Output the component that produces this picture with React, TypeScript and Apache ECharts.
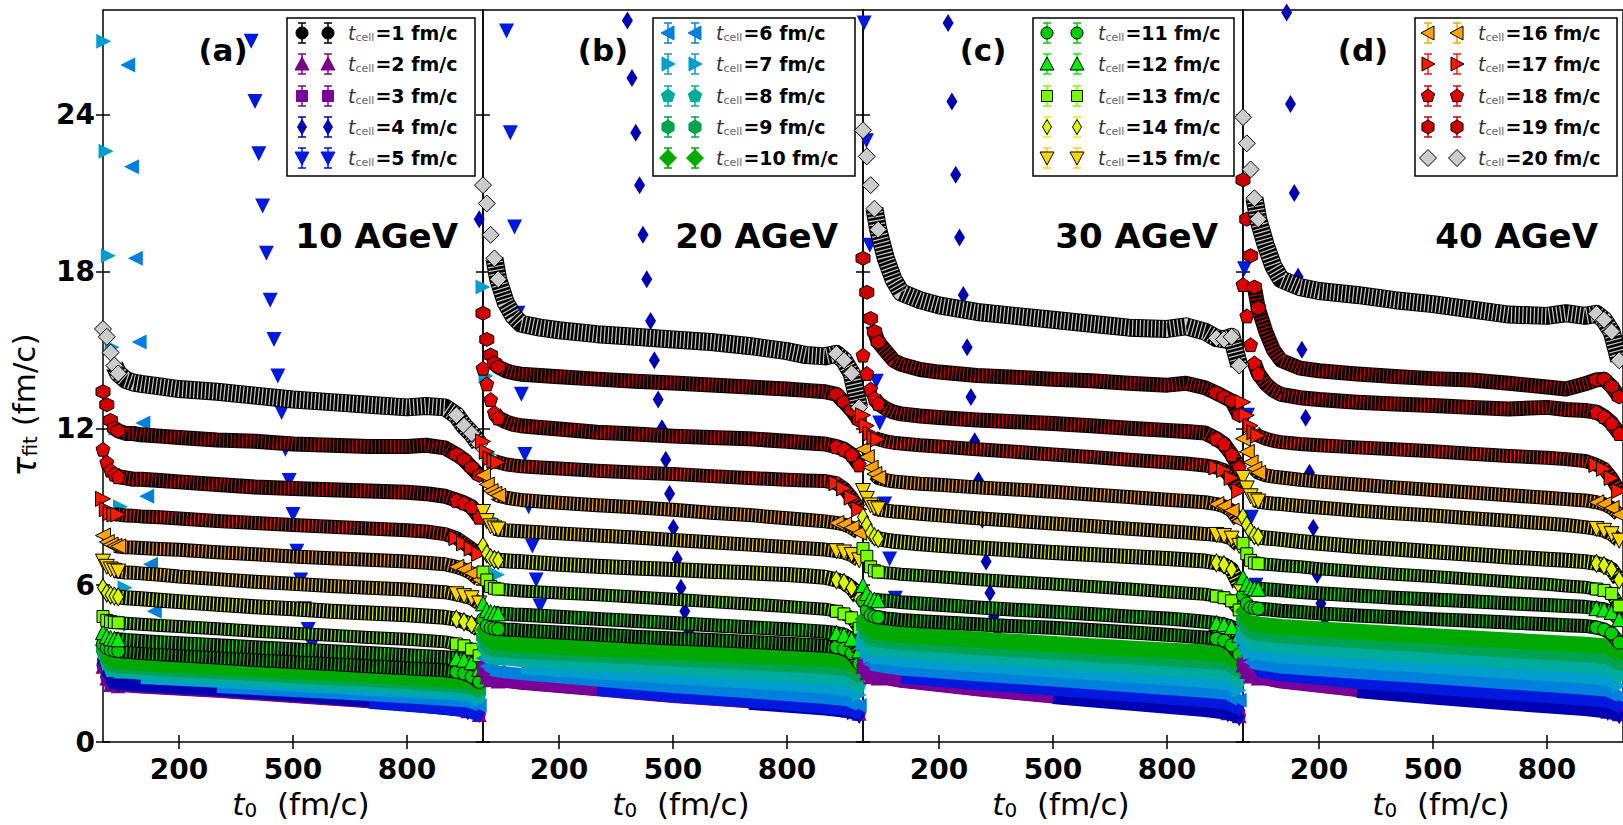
import React, { useEffect, useRef } from "react";
import * as echarts from "echarts";

// ---------- x grids (t0 in fm/c) ----------
// upper series (t_cell 11..20): first 3 values are the steep head, the rest the body
const XU = [0, 10, 20, 30, 40, 60, 80, 100, 150, 200, 300, 400, 500, 600, 700, 800, 850, 900, 930, 950, 970, 990];
// lower series (t_cell 1..10): first 2 values are the head
const XL = [0, 10, 20, 40, 100, 300, 500, 700, 900, 960, 990];

// ---------- panel (a) 10 AGeV ----------
const A20 = [15.8, 15.5, 14.9, 14.4, 14.1, 13.85, 13.75, 13.7, 13.6, 13.5, 13.4, 13.25, 13.1, 13.0, 12.9, 12.8, 12.85, 12.8, 12.5, 12.1, 11.8, 11.4];
const A19 = [13.4, 12.9, 12.3, 12.0, 11.9, 11.8, 11.8, 11.75, 11.7, 11.65, 11.55, 11.5, 11.4, 11.35, 11.3, 11.3, 11.35, 11.25, 11.0, 10.8, 10.5, 10.2];
const A18 = [11.2, 10.7, 10.4, 10.25, 10.15, 10.1, 10.05, 10.05, 10.0, 9.95, 9.85, 9.75, 9.7, 9.65, 9.6, 9.55, 9.5, 9.4, 9.25, 9.15, 9.0, 8.6];
const A17 = [9.3, 8.9, 8.75, 8.7, 8.7, 8.66, 8.65, 8.63, 8.6, 8.55, 8.45, 8.38, 8.3, 8.23, 8.17, 8.1, 8.05, 7.95, 7.8, 7.6, 7.4, 7.2];
const A16 = [7.9, 7.65, 7.55, 7.5, 7.48, 7.45, 7.44, 7.42, 7.38, 7.35, 7.26, 7.18, 7.1, 7.03, 6.97, 6.9, 6.86, 6.8, 6.7, 6.6, 6.45, 6.2];
const A15 = [6.9, 6.7, 6.6, 6.55, 6.52, 6.48, 6.47, 6.45, 6.4, 6.33, 6.23, 6.13, 6.05, 5.97, 5.9, 5.83, 5.78, 5.73, 5.65, 5.58, 5.5, 5.3];
const A14 = [5.9, 5.7, 5.62, 5.58, 5.55, 5.52, 5.5, 5.48, 5.42, 5.37, 5.27, 5.17, 5.1, 5.0, 4.93, 4.87, 4.82, 4.77, 4.7, 4.6, 4.5, 4.3];
const A13 = [4.8, 4.65, 4.6, 4.58, 4.56, 4.54, 4.52, 4.5, 4.46, 4.42, 4.33, 4.24, 4.16, 4.08, 4.0, 3.93, 3.88, 3.83, 3.75, 3.68, 3.55, 3.3];
const A12 = [4.2, 4.05, 3.98, 3.95, 3.93, 3.9, 3.88, 3.86, 3.82, 3.78, 3.7, 3.62, 3.55, 3.47, 3.4, 3.32, 3.28, 3.24, 3.2, 3.15, 3.05, 2.8];
const A11 = [3.75, 3.6, 3.53, 3.5, 3.48, 3.45, 3.43, 3.4, 3.36, 3.32, 3.23, 3.14, 3.06, 2.98, 2.9, 2.82, 2.78, 2.74, 2.68, 2.62, 2.5, 2.3];
const A10 = [3.7, 3.3, 3.12, 3.08, 3.02, 2.87, 2.72, 2.57, 2.4, 2.32, 2.15];
const A9 = [3.55, 3.15, 2.92, 2.88, 2.82, 2.66, 2.5, 2.35, 2.18, 2.1, 1.95];
const A8 = [3.4, 3.0, 2.75, 2.7, 2.63, 2.47, 2.3, 2.15, 1.98, 1.9, 1.75];
const A7 = [null, null, null, null, 2.45, 2.3, 2.15, 2.0, 1.85, 1.78, 1.62];
const A6 = [null, null, null, null, null, 2.1, 1.95, 1.8, 1.62, 1.55, 1.4];
const A5 = [null, null, null, null, null, null, null, 1.5, 1.27, 1.17, 1.0];
const A4 = [3.05, 2.6, 2.3, 2.24, 2.16, 2.0, 1.8, 1.58, 1.28, 1.18, null];
const A3 = [3.0, 2.55, 2.24, 2.19, 2.12, 1.96, 1.76, 1.56, 1.34, 1.24, 1.09];
const A2 = [2.9, 2.45, 2.2, 2.15, 2.08, 1.92, 1.72, 1.52, 1.3, 1.2, 1.05];
const A1 = [2.95, 2.5, 2.22, 2.17, 2.1, 1.94, 1.74, 1.54, 1.32, 1.22, 1.07];
const A4_OX = [990];
const A4_OY = [20.0];
const A5_OX = [390, 400, 410, 420, 430, 440, 450, 460, 470, 480, 490, 500, 510, 520, 530, 540, 550];
const A5_OY = [26.8, 24.5, 22.5, 20.5, 18.7, 16.9, 15.4, 14.0, 12.6, 11.2, 10.0, 8.7, 7.3, 6.2, 5.1, 4.3, 3.7];
const A6_OX = [65, 75, 85, 95, 105, 115, 125, 135];
const A6_OY = [25.9, 22.0, 18.5, 15.3, 12.2, 9.4, 6.8, 5.0];
const A7_OX = [2, 8, 14, 24, 34, 46, 58, 72];
const A7_OY = [26.8, 22.6, 18.6, 15.1, 12.0, 9.0, 5.9, 4.5];

// ---------- panel (b) 20 AGeV ----------
const B20 = [21.3, 20.6, 19.4, 18.5, 17.7, 16.8, 16.3, 16.0, 15.85, 15.75, 15.6, 15.5, 15.4, 15.3, 15.15, 14.95, 14.8, 14.75, 14.85, 14.6, 14.1, 12.8];
const B19 = [16.4, 15.4, 14.8, 14.5, 14.35, 14.2, 14.12, 14.07, 14.02, 13.97, 13.88, 13.8, 13.73, 13.66, 13.58, 13.5, 13.45, 13.4, 13.3, 13.0, 12.7, 12.3];
const B18 = [14.3, 13.7, 13.1, 12.6, 12.4, 12.25, 12.15, 12.1, 12.03, 11.97, 11.85, 11.78, 11.7, 11.65, 11.6, 11.5, 11.45, 11.4, 11.3, 11.2, 11.0, 10.6];
const B17 = [11.5, 11.1, 10.85, 10.75, 10.7, 10.62, 10.58, 10.55, 10.5, 10.46, 10.38, 10.31, 10.25, 10.17, 10.1, 10.03, 10.0, 9.98, 9.9, 9.7, 9.35, 8.9];
const B16 = [10.2, 9.85, 9.6, 9.5, 9.42, 9.35, 9.3, 9.26, 9.2, 9.15, 9.06, 8.98, 8.88, 8.77, 8.68, 8.56, 8.5, 8.44, 8.38, 8.32, 8.2, 8.0];
const B15 = [8.8, 8.45, 8.25, 8.17, 8.13, 8.1, 8.08, 8.06, 8.02, 7.98, 7.9, 7.82, 7.73, 7.64, 7.55, 7.46, 7.41, 7.36, 7.3, 7.25, 7.15, 6.95];
const B14 = [7.5, 7.2, 7.05, 6.98, 6.95, 6.93, 6.91, 6.9, 6.85, 6.8, 6.72, 6.66, 6.6, 6.53, 6.47, 6.41, 6.36, 6.3, 6.2, 6.1, 5.9, 5.5];
const B13 = [6.5, 6.2, 5.95, 5.88, 5.85, 5.82, 5.8, 5.78, 5.74, 5.7, 5.63, 5.55, 5.46, 5.37, 5.28, 5.18, 5.13, 5.08, 5.0, 4.9, 4.75, 4.35];
const B12 = [5.3, 5.05, 4.97, 4.94, 4.92, 4.9, 4.88, 4.87, 4.83, 4.79, 4.71, 4.63, 4.55, 4.47, 4.39, 4.31, 4.27, 4.22, 4.17, 4.1, 3.95, 3.5];
const B11 = [4.7, 4.45, 4.37, 4.34, 4.32, 4.3, 4.29, 4.27, 4.23, 4.19, 4.11, 4.03, 3.96, 3.9, 3.83, 3.76, 3.72, 3.68, 3.63, 3.56, 3.4, 3.0];
const B10 = [4.3, 4.0, 3.85, 3.8, 3.72, 3.58, 3.45, 3.32, 3.18, 3.1, 2.85];
const B9 = [4.0, 3.7, 3.55, 3.5, 3.43, 3.29, 3.15, 3.0, 2.85, 2.77, 2.5];
const B8 = [3.7, 3.4, 3.25, 3.2, 3.12, 2.96, 2.8, 2.63, 2.47, 2.4, 2.15];
const B7 = [null, null, null, null, 2.82, 2.63, 2.45, 2.27, 2.08, 2.0, 1.8];
const B6 = [3.2, 2.9, 2.75, 2.7, 2.6, 2.35, 2.1, 1.9, 1.68, 1.6, 1.4];
const B5 = [null, null, null, null, null, 2.0, 1.75, 1.55, 1.32, 1.24, 1.1];
const B4 = [null, null, null, null, null, null, null, 1.48, 1.26, 1.17, 1.03];
const B3 = [2.85, 2.55, 2.42, 2.37, 2.27, 2.02, 1.76, 1.56, 1.34, 1.26, 1.14];
const B2 = [2.8, 2.5, 2.38, 2.33, 2.23, 1.98, 1.72, 1.52, 1.3, 1.22, 1.1];
const B1 = [2.82, 2.52, 2.4, 2.35, 2.25, 2.0, 1.74, 1.54, 1.32, 1.24, 1.12];
const B4_OX = [380, 392, 402, 412, 421, 431, 441, 451, 461, 471, 481, 491, 501, 511, 521, 531, 541, 551];
const B4_OY = [27.6, 25.4, 23.3, 21.3, 19.4, 17.7, 16.1, 14.6, 13.1, 12.0, 10.8, 9.5, 8.2, 7.0, 5.9, 5.0, 4.2, 3.6];
const B5_OX = [62, 72, 83, 92, 101, 110, 120, 130, 140, 150];
const B5_OY = [27.2, 23.3, 19.7, 16.4, 13.3, 11.0, 9.0, 7.5, 6.2, 5.2];
const B7_OX = [0, 8, 16, 26, 38, 52, 68];
const B7_OY = [17.4, 14.0, 11.0, 8.5, 6.4, 4.8, 3.7];

// ---------- panel (c) 30 AGeV ----------
const C20 = [23.4, 22.4, 21.3, 20.4, 19.6, 18.5, 17.7, 17.2, 16.9, 16.7, 16.45, 16.3, 16.15, 16.0, 15.85, 15.8, 15.9, 15.7, 15.45, 15.4, 15.5, 14.4];
const C19 = [18.5, 17.2, 16.2, 15.7, 15.3, 14.95, 14.6, 14.45, 14.25, 14.15, 14.02, 13.95, 13.88, 13.82, 13.72, 13.65, 13.72, 13.55, 13.35, 13.2, 13.05, 12.5];
const C18 = [14.8, 14.1, 13.5, 13.15, 12.95, 12.75, 12.62, 12.55, 12.47, 12.41, 12.32, 12.25, 12.18, 12.1, 12.0, 11.92, 11.88, 11.82, 11.6, 11.4, 11.0, 10.5];
const C17 = [12.5, 12.1, 11.8, 11.65, 11.58, 11.5, 11.45, 11.42, 11.35, 11.3, 11.2, 11.1, 11.0, 10.9, 10.8, 10.7, 10.65, 10.58, 10.5, 10.4, 10.1, 9.6];
const C16 = [11.2, 10.9, 10.5, 10.25, 10.1, 10.02, 9.97, 9.94, 9.88, 9.84, 9.74, 9.66, 9.57, 9.47, 9.37, 9.27, 9.22, 9.17, 9.1, 9.02, 8.85, 8.45];
const C15 = [9.6, 9.3, 9.05, 8.95, 8.9, 8.85, 8.82, 8.8, 8.73, 8.67, 8.56, 8.46, 8.36, 8.26, 8.16, 8.06, 8.01, 7.96, 7.92, 7.88, 7.78, 7.5];
const C14 = [8.6, 8.3, 8.0, 7.85, 7.78, 7.72, 7.68, 7.65, 7.58, 7.53, 7.43, 7.34, 7.25, 7.17, 7.1, 7.02, 6.97, 6.92, 6.85, 6.78, 6.6, 6.0];
const C13 = [7.4, 7.1, 6.7, 6.55, 6.5, 6.47, 6.45, 6.42, 6.37, 6.32, 6.22, 6.13, 6.04, 5.95, 5.85, 5.75, 5.7, 5.65, 5.58, 5.52, 5.4, 5.05];
const C12 = [6.0, 5.7, 5.5, 5.45, 5.42, 5.4, 5.38, 5.35, 5.3, 5.25, 5.15, 5.06, 4.98, 4.9, 4.8, 4.72, 4.67, 4.6, 4.55, 4.5, 4.4, 4.1];
const C11 = [5.4, 5.05, 4.85, 4.8, 4.77, 4.73, 4.7, 4.67, 4.62, 4.58, 4.5, 4.43, 4.37, 4.28, 4.2, 4.1, 4.05, 4.0, 3.95, 3.88, 3.7, 3.35];
const C10 = [4.7, 4.4, 4.25, 4.2, 4.1, 3.92, 3.75, 3.58, 3.42, 3.35, 3.05];
const C9 = [4.4, 4.1, 3.92, 3.87, 3.77, 3.58, 3.4, 3.22, 3.05, 2.98, 2.7];
const C8 = [4.1, 3.8, 3.6, 3.55, 3.44, 3.24, 3.05, 2.86, 2.68, 2.6, 2.35];
const C7 = [3.8, 3.5, 3.28, 3.22, 3.1, 2.9, 2.7, 2.5, 2.3, 2.22, 1.98];
const C6 = [3.5, 3.2, 2.97, 2.9, 2.77, 2.55, 2.35, 2.13, 1.92, 1.84, 1.6];
const C5 = [null, null, null, null, 2.47, 2.22, 2.0, 1.78, 1.55, 1.46, 1.25];
const C4 = [null, null, null, null, null, null, 1.7, 1.45, 1.2, 1.1, 0.95];
const C3 = [2.95, 2.7, 2.55, 2.5, 2.35, 2.02, 1.74, 1.5, 1.26, 1.16, 1.04];
const C2 = [2.9, 2.65, 2.5, 2.45, 2.3, 1.98, 1.7, 1.46, 1.22, 1.12, 1.0];
const C1 = [2.92, 2.67, 2.52, 2.47, 2.32, 2.0, 1.72, 1.48, 1.24, 1.14, 1.02];
const C4_OX = [224, 234, 244, 254, 264, 274, 284, 294, 304, 314, 324, 334, 344, 354];
const C4_OY = [27.5, 24.5, 21.7, 19.3, 17.1, 15.1, 13.2, 11.5, 10.0, 8.5, 6.9, 5.7, 4.8, 4.1];
const C5_OX = [3, 9, 18, 26, 35, 44, 57, 70, 85];
const C5_OY = [27.5, 23.0, 19.0, 15.6, 13.8, 12.2, 9.1, 7.0, 5.5];

// ---------- panel (d) 40 AGeV ----------
const D20 = [23.9, 22.9, 21.9, 20.8, 20.0, 19.0, 18.2, 17.7, 17.4, 17.25, 17.1, 16.9, 16.75, 16.55, 16.35, 16.3, 16.4, 16.3, 16.38, 16.15, 15.7, 14.6];
const D19 = [21.5, 20.0, 18.6, 17.4, 16.6, 15.7, 15.0, 14.6, 14.3, 14.2, 14.08, 13.98, 13.9, 13.85, 13.72, 13.58, 13.5, 13.7, 13.85, 13.88, 13.6, 13.2];
const D18 = [17.5, 16.3, 15.2, 14.5, 14.1, 13.7, 13.45, 13.3, 13.17, 13.1, 13.0, 12.93, 12.87, 12.8, 12.74, 12.8, 12.72, 12.68, 12.62, 12.45, 12.2, 11.8];
const D17 = [13.0, 12.5, 12.1, 11.85, 11.72, 11.6, 11.52, 11.47, 11.4, 11.35, 11.27, 11.2, 11.12, 11.03, 10.94, 10.87, 10.82, 10.75, 10.6, 10.45, 10.1, 9.6];
const D16 = [11.6, 11.1, 10.7, 10.45, 10.3, 10.2, 10.15, 10.12, 10.03, 9.96, 9.85, 9.74, 9.64, 9.54, 9.44, 9.34, 9.29, 9.24, 9.17, 9.1, 8.95, 8.7];
const D15 = [10.1, 9.7, 9.4, 9.25, 9.2, 9.15, 9.12, 9.1, 9.03, 8.97, 8.85, 8.75, 8.66, 8.56, 8.46, 8.36, 8.3, 8.22, 8.15, 8.08, 7.95, 7.7];
const D14 = [8.6, 8.3, 8.05, 7.9, 7.85, 7.8, 7.78, 7.75, 7.67, 7.6, 7.48, 7.38, 7.28, 7.18, 7.08, 6.99, 6.95, 6.9, 6.83, 6.75, 6.6, 6.2];
const D13 = [7.6, 7.2, 6.95, 6.85, 6.82, 6.8, 6.78, 6.75, 6.7, 6.63, 6.52, 6.42, 6.33, 6.23, 6.13, 6.03, 5.97, 5.92, 5.85, 5.8, 5.68, 5.2];
const D12 = [6.3, 6.05, 5.92, 5.88, 5.86, 5.84, 5.82, 5.8, 5.74, 5.69, 5.6, 5.52, 5.45, 5.38, 5.31, 5.24, 5.2, 5.17, 5.12, 5.07, 4.97, 4.7];
const D11 = [5.6, 5.3, 5.15, 5.12, 5.1, 5.08, 5.05, 5.02, 4.97, 4.92, 4.84, 4.77, 4.7, 4.64, 4.57, 4.5, 4.47, 4.44, 4.38, 4.3, 4.15, 3.8];
const D10 = [5.0, 4.7, 4.55, 4.5, 4.4, 4.22, 4.05, 3.88, 3.72, 3.65, 3.4];
const D9 = [4.65, 4.35, 4.18, 4.12, 4.02, 3.83, 3.65, 3.47, 3.3, 3.22, 2.98];
const D8 = [4.3, 4.0, 3.8, 3.74, 3.63, 3.43, 3.25, 3.06, 2.88, 2.8, 2.57];
const D7 = [3.95, 3.65, 3.42, 3.36, 3.24, 3.04, 2.85, 2.65, 2.46, 2.38, 2.15];
const D6 = [3.6, 3.3, 3.05, 2.98, 2.85, 2.64, 2.45, 2.24, 2.04, 1.96, 1.74];
const D5 = [null, null, null, 2.72, 2.55, 2.27, 2.05, 1.82, 1.62, 1.53, 1.35];
const D4 = [null, null, null, null, null, 1.93, 1.68, 1.45, 1.24, 1.15, 1.02];
const D3 = [3.0, 2.75, 2.56, 2.49, 2.31, 1.99, 1.74, 1.51, 1.31, 1.22, 1.12];
const D2 = [2.95, 2.7, 2.52, 2.45, 2.27, 1.95, 1.7, 1.47, 1.27, 1.18, 1.08];
const D1 = [2.97, 2.72, 2.54, 2.47, 2.29, 1.97, 1.72, 1.49, 1.29, 1.2, 1.1];
const D4_OX = [115, 125, 135, 145, 155, 165, 175, 185, 195, 205, 215];
const D4_OY = [27.9, 24.4, 21.0, 17.8, 15.0, 12.4, 10.3, 8.2, 6.4, 5.3, 4.5];
const D5_OX = [4, 12, 22, 34];
const D5_OY = [18.1, 12.5, 8.6, 6.0];

// ---------- labels ----------
const T_CELL = [1, 2, 3, 4, 5, 6, 7, 8, 9, 10, 11, 12, 13, 14, 15, 16, 17, 18, 19, 20];
const ENERGY = ["10 AGeV", "20 AGeV", "30 AGeV", "40 AGeV"];
const TAGS = ["(a)", "(b)", "(c)", "(d)"];
const X_TICKS = [200, 500, 800];
const Y_TICKS = [0, 6, 12, 18, 24];

const PANELS = [
  [A1, A2, A3, A4, A5, A6, A7, A8, A9, A10, A11, A12, A13, A14, A15, A16, A17, A18, A19, A20],
  [B1, B2, B3, B4, B5, B6, B7, B8, B9, B10, B11, B12, B13, B14, B15, B16, B17, B18, B19, B20],
  [C1, C2, C3, C4, C5, C6, C7, C8, C9, C10, C11, C12, C13, C14, C15, C16, C17, C18, C19, C20],
  [D1, D2, D3, D4, D5, D6, D7, D8, D9, D10, D11, D12, D13, D14, D15, D16, D17, D18, D19, D20],
];
const OUTLIERS = [
  { p: 0, k: 4, x: A4_OX, y: A4_OY },
  { p: 0, k: 5, x: A5_OX, y: A5_OY },
  { p: 0, k: 6, x: A6_OX, y: A6_OY },
  { p: 0, k: 7, x: A7_OX, y: A7_OY },
  { p: 1, k: 4, x: B4_OX, y: B4_OY },
  { p: 1, k: 5, x: B5_OX, y: B5_OY },
  { p: 1, k: 7, x: B7_OX, y: B7_OY },
  { p: 2, k: 4, x: C4_OX, y: C4_OY },
  { p: 2, k: 5, x: C5_OX, y: C5_OY },
  { p: 3, k: 4, x: D4_OX, y: D4_OY },
  { p: 3, k: 5, x: D5_OX, y: D5_OY },
];

// nipy_spectral sampled at 20 points
const COLORS = [
  "#000000", "#780089", "#7a009b", "#0000b2", "#0019dd", "#0080dd", "#009ecd", "#00aa9d", "#00a34f", "#00a900",
  "#00cd00", "#00f000", "#76ff00", "#ddf900", "#fad500", "#ffa400", "#ff1800", "#e10000", "#cd0000", "#cccccc",
];
const MARKERS = ["o", "^", "s", "d", "v", "<", ">", "p", "h", "D"];

const PENT = "path://M0,-10L9.51,-3.09L5.88,8.09L-5.88,8.09L-9.51,-3.09Z";
const HEX = "path://M0,-10L8.66,-5L8.66,5L0,10L-8.66,5L-8.66,-5Z";

const FONT = "DejaVu Sans";
const GRID_LEFT = 103;
const GRID_W = 380;
const GRID_TOP = 10;
const GRID_H = 732;

function symbolFor(m: string): any {
  switch (m) {
    case "o": return { symbol: "circle", symbolSize: 13, symbolRotate: 0 };
    case "^": return { symbol: "triangle", symbolSize: 15, symbolRotate: 0 };
    case "s": return { symbol: "rect", symbolSize: 12, symbolRotate: 0 };
    case "d": return { symbol: "diamond", symbolSize: [11, 18], symbolRotate: 0 };
    case "v": return { symbol: "triangle", symbolSize: 15, symbolRotate: 180 };
    case "<": return { symbol: "triangle", symbolSize: 15, symbolRotate: 90 };
    case ">": return { symbol: "triangle", symbolSize: 15, symbolRotate: -90 };
    case "p": return { symbol: PENT, symbolSize: 14, symbolRotate: 0 };
    case "h": return { symbol: HEX, symbolSize: 14, symbolRotate: 0 };
    default: return { symbol: "diamond", symbolSize: 17, symbolRotate: 0 };
  }
}
const BAND_W: Record<string, number> = { o: 12, "^": 12, s: 11, d: 13, v: 12, "<": 12, ">": 12, p: 13, h: 13, D: 16 };

function polyPts(m: string, cx: number, cy: number): number[][] | null {
  const reg = (n: number, r: number) => {
    const out: number[][] = [];
    for (let i = 0; i < n; i++) {
      const a = -Math.PI / 2 + (i * 2 * Math.PI) / n;
      out.push([cx + r * Math.cos(a), cy + r * Math.sin(a)]);
    }
    return out;
  };
  switch (m) {
    case "^": return [[cx, cy - 7], [cx + 7, cy + 6], [cx - 7, cy + 6]];
    case "v": return [[cx, cy + 7], [cx + 7, cy - 6], [cx - 7, cy - 6]];
    case "<": return [[cx - 7, cy], [cx + 6, cy - 7], [cx + 6, cy + 7]];
    case ">": return [[cx + 7, cy], [cx - 6, cy - 7], [cx - 6, cy + 7]];
    case "d": return [[cx, cy - 7.5], [cx + 4.5, cy], [cx, cy + 7.5], [cx - 4.5, cy]];
    case "D": return [[cx, cy - 8.5], [cx + 8.5, cy], [cx, cy + 8.5], [cx - 8.5, cy]];
    case "p": return reg(5, 7);
    case "h": return reg(6, 7);
    default: return null;
  }
}

function legendMarker(m: string, cx: number, cy: number, color: string, edged: boolean, withBar: boolean): any[] {
  const els: any[] = [];
  if (withBar) {
    const bs = { stroke: color, lineWidth: 1.5 };
    els.push({ type: "line", shape: { x1: cx, y1: cy - 10, x2: cx, y2: cy + 10 }, style: bs, z: 101 });
    els.push({ type: "line", shape: { x1: cx - 4, y1: cy - 10, x2: cx + 4, y2: cy - 10 }, style: bs, z: 101 });
    els.push({ type: "line", shape: { x1: cx - 4, y1: cy + 10, x2: cx + 4, y2: cy + 10 }, style: bs, z: 101 });
  }
  const st = { fill: color, stroke: edged ? "#000" : color, lineWidth: 1 };
  if (m === "o") els.push({ type: "circle", shape: { cx, cy, r: 6 }, style: st, z: 102 });
  else if (m === "s") els.push({ type: "rect", shape: { x: cx - 5.5, y: cy - 5.5, width: 11, height: 11 }, style: st, z: 102 });
  else els.push({ type: "polygon", shape: { points: polyPts(m, cx, cy) }, style: st, z: 102 });
  return els;
}

function buildOption() {
  const grid: any[] = [];
  const xAxis: any[] = [];
  const yAxis: any[] = [];
  const series: any[] = [];
  const graphic: any[] = [];
  const tickStyle = { color: "#000", width: 1.5 };

  for (let p = 0; p < 4; p++) {
    grid.push({
      left: GRID_LEFT + p * GRID_W, top: GRID_TOP, width: GRID_W, height: GRID_H,
      show: true, borderColor: "#000", borderWidth: 1.5, backgroundColor: "transparent",
    });
    const xBase = {
      gridIndex: p, type: "value", min: 0, max: 1000,
      axisLine: { show: false }, splitLine: { show: false },
    };
    xAxis.push({
      ...xBase, position: "bottom",
      axisTick: { show: true, inside: true, length: 7, lineStyle: tickStyle, customValues: X_TICKS },
      axisLabel: { show: true, customValues: X_TICKS, fontFamily: FONT, fontWeight: "bold", fontSize: 28, color: "#000", margin: 13 },
    });
    xAxis.push({
      ...xBase, position: "top",
      axisTick: { show: true, inside: true, length: 7, lineStyle: tickStyle, customValues: X_TICKS },
      axisLabel: { show: false },
    });
    const yBase = {
      gridIndex: p, type: "value", min: 0, max: 28,
      axisLine: { show: false }, splitLine: { show: false },
    };
    yAxis.push({
      ...yBase, position: "left",
      axisTick: { show: true, inside: true, length: 7, lineStyle: tickStyle, customValues: Y_TICKS },
      axisLabel: { show: p === 0, customValues: Y_TICKS, fontFamily: FONT, fontWeight: "bold", fontSize: 28, color: "#000", margin: 8 },
    });
    yAxis.push({
      ...yBase, position: "right",
      axisTick: { show: true, inside: true, length: 7, lineStyle: tickStyle, customValues: Y_TICKS },
      axisLabel: { show: false },
    });
  }

  let z = 10;
  for (let p = 0; p < 4; p++) {
    const axes = { xAxisIndex: p * 2, yAxisIndex: p * 2 };
    for (let k = 1; k <= 20; k++) {
      const vals = PANELS[p][k - 1];
      const m = MARKERS[(k - 1) % 10];
      const color = COLORS[k - 1];
      const edged = k > 10;
      const xs = edged ? XU : XL;
      const nh = edged ? 3 : 2;
      const pts = xs.map((x, i) => [x, vals[i]]);
      const head = pts.slice(0, nh).filter((v) => v[1] != null);
      const body = pts.slice(nh).filter((v) => v[1] != null);
      // markers drawn individually where the curve is steep: head and the final drop
      const marks = head.concat(body.filter((v) => v[0] >= 930 || v[0] <= 40));
      const sym = symbolFor(m);
      const w = BAND_W[m];
      const itemStyle = { color, borderColor: edged ? "#000" : color, borderWidth: edged ? 1 : 0, opacity: 1 };
      const common = { ...axes, silent: true, animation: false, clip: false, emphasis: { disabled: true } };
      if (body.length) {
        if (edged) {
          series.push({
            ...common, type: "line", data: body, symbol: "none",
            lineStyle: { color: "#000", width: w + 2, join: "round" }, z: z++,
          });
        }
        series.push({
          ...common, type: "line", data: body, symbol: "none",
          lineStyle: { color, width: w, join: "round", type: edged ? [1.2, 2.6] : "solid" }, z: z++,
        });
      }
      if (marks.length) {
        series.push({ ...common, type: "scatter", data: marks, ...sym, itemStyle, z: z++ });
      }
      OUTLIERS.filter((o) => o.p === p && o.k === k).forEach((o) => {
        series.push({
          ...common, type: "scatter", data: o.x.map((x, i) => [x, o.y[i]]), ...sym, itemStyle, z: z++,
        });
      });
    }
  }

  // legends
  const LEG_BOX = [[287, 188], [653, 202], [1033, 201], [1415, 202]];
  const LEG_MX = [[302, 328], [668, 695], [1047, 1077], [1428, 1457]];
  const LEG_TX = [348, 716, 1098, 1478];
  const ROW_Y = [33, 64, 96, 127, 158];
  for (let p = 0; p < 4; p++) {
    graphic.push({
      type: "rect", shape: { x: LEG_BOX[p][0], y: 18, width: LEG_BOX[p][1], height: 158 },
      style: { fill: "#fff", stroke: "#000", lineWidth: 1.5 }, z: 100,
    });
    for (let r = 0; r < 5; r++) {
      const k = p * 5 + r + 1;
      const m = MARKERS[(k - 1) % 10];
      const color = COLORS[k - 1];
      const edged = k > 10;
      for (const mx of LEG_MX[p]) {
        legendMarker(m, mx, ROW_Y[r], color, edged, k < 20).forEach((e) => graphic.push(e));
      }
      graphic.push({
        type: "text", x: LEG_TX[p], y: ROW_Y[r], z: 103,
        style: {
          text: "{t|t}{s|cell}{v|=" + T_CELL[k - 1] + " fm/c}",
          verticalAlign: "middle",
          rich: {
            t: { fontFamily: FONT, fontStyle: "italic", fontSize: 19, lineHeight: 22, fill: "#333" },
            s: { fontFamily: FONT, fontSize: 11, lineHeight: 22, fill: "#666", padding: [9, 1, 0, 0] },
            v: { fontFamily: FONT, fontWeight: "bold", fontSize: 19, lineHeight: 22, fill: "#000" },
          },
        },
      });
    }
  }

  for (let p = 0; p < 4; p++) {
    const left = GRID_LEFT + p * GRID_W;
    graphic.push({
      type: "text", x: left + 120, y: 50, z: 103,
      style: { text: TAGS[p], font: "bold 31px " + FONT, fill: "#000", align: "center", verticalAlign: "middle" },
    });
    graphic.push({
      type: "text", x: left + GRID_W - 25, y: 236, z: 103,
      style: { text: ENERGY[p], font: "bold 34px " + FONT, fill: "#000", align: "right", verticalAlign: "middle" },
    });
    graphic.push({
      type: "text", x: left + GRID_W / 2 + 8, y: 804, z: 103,
      style: {
        text: "{t|t}{s|0}{n|  (fm/c)}", align: "center", verticalAlign: "middle",
        rich: {
          t: { fontFamily: FONT, fontStyle: "italic", fontSize: 31, lineHeight: 36, fill: "#000" },
          s: { fontFamily: FONT, fontSize: 20, lineHeight: 36, fill: "#000", padding: [12, 0, 0, 0] },
          n: { fontFamily: FONT, fontSize: 31, lineHeight: 36, fill: "#000" },
        },
      },
    });
  }
  graphic.push({
    type: "text", x: 24, y: 405, rotation: Math.PI / 2, z: 103,
    style: {
      text: "{t|τ}{s|fit}{n| (fm/c)}", align: "center", verticalAlign: "middle",
      rich: {
        t: { fontFamily: FONT, fontStyle: "italic", fontSize: 33, lineHeight: 36, fill: "#000" },
        s: { fontFamily: FONT, fontSize: 20, lineHeight: 36, fill: "#000", padding: [12, 0, 0, 0] },
        n: { fontFamily: FONT, fontSize: 31, lineHeight: 36, fill: "#000" },
      },
    },
  });

  return { animation: false, backgroundColor: "#fff", grid, xAxis, yAxis, series, graphic };
}

export default function App() {
  const ref = useRef<HTMLDivElement>(null);
  useEffect(() => {
    if (!ref.current) return;
    const chart = echarts.init(ref.current, null, { renderer: "svg" });
    chart.setOption(buildOption() as any);
    return () => chart.dispose();
  }, []);
  return (
    <div
      ref={ref}
      style={{ position: "fixed", left: 0, top: 0, width: 1623, height: 825, background: "#fff" }}
    />
  );
}
